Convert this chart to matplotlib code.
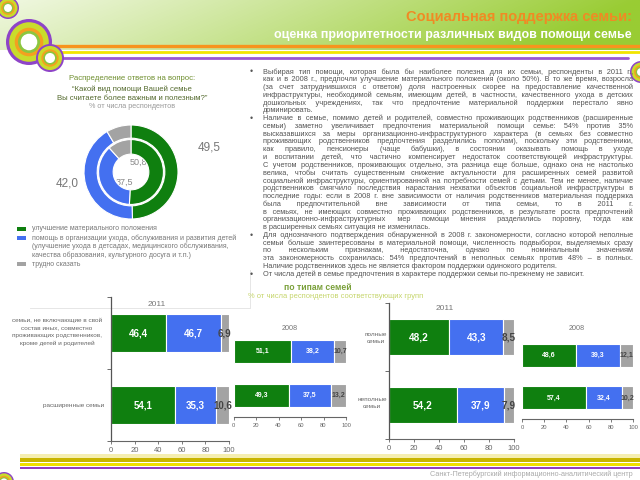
import matplotlib
matplotlib.use('Agg')
import matplotlib.pyplot as plt
import numpy as np
from matplotlib.patches import Circle, Rectangle

plt.rcParams['font.family'] = ['Liberation Sans', 'DejaVu Sans']

# ---------------- data ----------------
donut_2011 = [49.5, 42.0, 8.5]
donut_2008 = [50.8, 37.5, 11.7]
legend_labels = ["улучшение материального положения",
                 "помощь в организации ухода, обслуживания и развития детей",
                 "(улучшение ухода в детсадах, медицинского обслуживания,",
                 "качества образования, культурного досуга и т.п.)",
                 "трудно сказать"]

rel_cats = ["семьи, не включающие в свой\nсостав иных, совместно\nпроживающих родственников,\nкроме детей и родителей",
            "расширенные семьи"]
rel2011_green = [46.4, 54.1]
rel2011_blue = [46.7, 35.3]
rel2011_grey = [6.9, 10.6]
rel2008_green = [51.1, 49.3]
rel2008_blue = [38.2, 37.5]
rel2008_grey = [10.7, 13.2]

comp_cats = ["полные\nсемьи", "неполные\nсемьи"]
comp2011_green = [48.2, 54.2]
comp2011_blue = [43.3, 37.9]
comp2011_grey = [8.5, 7.9]
comp2008_green = [48.6, 57.4]
comp2008_blue = [39.3, 32.4]
comp2008_grey = [12.1, 10.2]
x_ticks = [0, 20, 40, 60, 80, 100]

paragraphs = [
    ["Выбирая тип помощи, которая была бы наиболее полезна для их семьи, респонденты в 2011 г.,",
     "как и в 2008 г., предпочли улучшение материального положения (около 50%). В то же время, возросла",
     "(за счет затруднившихся с ответом) доля настроенных скорее на предоставление качественной",
     "инфраструктуры, необходимой семьям, имеющим детей, в частности, качественного ухода в детских",
     "дошкольных учреждениях, так что предпочтение материальной поддержки перестало явно",
     "доминировать."],
    ["Наличие в семье, помимо детей и родителей, совместно проживающих родственников (расширенные",
     "семьи) заметно увеличивает предпочтения материальной помощи семье: 54% против 35%",
     "высказавшихся за меры организационно-инфраструктурного характера (в семьях без совместно",
     "проживающих родственников предпочтения разделились пополам), поскольку эти родственники,",
     "как правило, пенсионеры (чаще бабушки), в состоянии оказывать помощь в уходе",
     "и воспитании детей, что частично компенсирует недостаток соответствующей инфраструктуры.",
     "С учетом родственников, проживающих отдельно, эта разница еще больше, однако она не настолько",
     "велика, чтобы считать существенным снижение актуальности для расширенных семей развитой",
     "социальной инфраструктуры, ориентированной на потребности семей с детьми. Тем не менее, наличие",
     "родственников смягчило последствия нарастания нехватки объектов социальной инфраструктуры в",
     "последние годы: если в 2008 г. вне зависимости от наличия родственников материальная поддержка",
     "была предпочтительной вне зависимости от типа семьи, то в 2011 г.",
     "в семьях, не имеющих совместно проживающих родственников, в результате роста предпочтений",
     "организационно-инфраструктурных мер помощи мнения разделились поровну, тогда как",
     "в расширенных семьях ситуация не изменилась."],
    ["Для однозначного подтверждения обнаруженной в 2008 г. закономерности, согласно которой неполные",
     "семьи больше заинтересованы в материальной помощи, численность подвыборок, выделяемых сразу",
     "по нескольким признакам, недостаточна, однако по номинальным значениям",
     "эта закономерность сохранилась: 54% предпочтений в неполных семьях против 48% – в полных.",
     "Наличие родственников здесь не является фактором поддержки одинокого родителя."],
    ["От числа детей в семье предпочтения в характере поддержки семьи по-прежнему не зависит."],
]
justify_extra = {(2, 3): True}  # paragraph line that still reaches the right edge

GREEN = '#0f7f0f'
BLUE = '#4470f0'
GREY = '#a3a3a3'

W, H = 640, 480
fig = plt.figure(figsize=(6.4, 4.8), dpi=100)
bg = fig.add_axes([0, 0, 1, 1])
bg.axis('off')


def px_axes(x0, y0, x1, y1):
    a = fig.add_axes([x0 / W, 1 - y1 / H, (x1 - x0) / W, (y1 - y0) / H])
    a.patch.set_alpha(0)
    return a


# ---------------- header ----------------
nx, ny = 320, 40
gx = np.linspace(0, 1, nx)[None, :]
gy = np.linspace(0, 1, ny)[:, None]
c0 = np.array([1.0, 1.0, 1.0])
c1 = np.array([0.60, 0.80, 0.20])
t = np.clip(0.15 + gx ** 1.1 * 0.85 + gy * 0.15, 0, 1)
img = c0 * (1 - t[..., None]) + c1 * t[..., None]
bg.imshow(img, extent=[0, 640, 50, 0], aspect='auto', zorder=0)
bg.set_xlim(0, W)
bg.set_ylim(H, 0)

bg.plot([40, 640], [46, 46], color='#f7941d', lw=2.4, solid_capstyle='butt', zorder=1)
bg.plot([50, 640], [51.5, 51.5], color='#f2e600', lw=2.0, solid_capstyle='butt', zorder=1)
bg.plot([58, 628], [58, 58], color='#9b59d0', lw=2.0, solid_capstyle='round', zorder=1)


def ring(cx, cy, r, z=3):
    layers = [(1.0, '#8e44c8'), (0.86, '#c9dc2c'), (0.62, '#f4a020'), (0.48, '#8cc63f'), (0.36, '#ffffff')]
    for f, c in layers:
        bg.add_patch(Circle((cx, cy), r * f, color=c, zorder=z, lw=0))


ring(8, 8, 11)
ring(29, 42, 23)
ring(50, 58, 14, z=4)
ring(641, 72, 11)
ring(4, 482, 10)

bg.text(632, 17, "Социальная поддержка семьи:", color='#f08a24', fontsize=10.5,
        fontweight='bold', ha='right', va='center', zorder=5)
bg.text(632, 35, "оценка приоритетности различных видов помощи семье", color='white',
        fontsize=9, fontweight='bold', ha='right', va='center', zorder=5)

# ---------------- footer ----------------
bg.add_patch(Rectangle((20, 454), 620, 4, color='#f5eeb0', lw=0, zorder=1))
bg.add_patch(Rectangle((20, 458), 620, 4, color='#c8b400', lw=0, zorder=1))
bg.add_patch(Rectangle((20, 463), 620, 3, color='#f0e000', lw=0, zorder=1))
bg.add_patch(Rectangle((20, 466.5), 620, 2.5, color='#9040c0', lw=0, zorder=1))
bg.text(633, 474, "Санкт-Петербургский информационно-аналитический центр", color='#aaaaaa',
        fontsize=5.2, ha='right', va='center')

# ---------------- text block (justified, one text object per line) ----------------
renderer = fig.canvas.get_renderer()
TX0, TX1, TY0, TDY = 263, 633, 72, 7.77
TCOL = '#555555'


def text_width(s, size):
    tt = bg.text(0, 0, s, fontsize=size)
    w = tt.get_window_extent(renderer).width
    tt.remove()
    return w


all_lines = [l for p in paragraphs for l in p]
fs0 = 6.0
maxw = max(text_width(l, fs0) for l in all_lines)
fs = min(6.5, fs0 * (TX1 - TX0) / (maxw * 1.005))

# width of a small filler space used to stretch lines
fill_char = '\u200a'
fill_w = text_width('a' + fill_char + 'a', fs) - text_width('aa', fs)
if fill_w < 0.3:
    fill_char = ' '
    fill_w = text_width('a a', fs) - text_width('aa', fs)

li = 0
for pi, para in enumerate(paragraphs):
    for k, line in enumerate(para):
        y = TY0 + li * TDY
        if k == 0:
            bg.text(250, y, "•", fontsize=fs + 1, color=TCOL, ha='left', va='center')
        last = (k == len(para) - 1)
        words = line.split(' ')
        s = line
        if (not last or justify_extra.get((pi, k), False)) and len(words) > 1:
            w0 = text_width(line, fs)
            n_extra = max(0, int(round((TX1 - TX0 - w0) / fill_w)))
            gaps = len(words) - 1
            base, rem = divmod(n_extra, gaps)
            parts = [words[0]]
            for gi in range(gaps):
                cnt = base + (1 if gi < rem else 0)
                parts.append(' ' + fill_char * cnt + words[gi + 1])
            s = ''.join(parts)
        bg.text(TX0, y, s, fontsize=fs, color=TCOL, ha='left', va='center')
        li += 1

# ---------------- donut ----------------
dcx, dcy, R = 131, 172, 47
axd = px_axes(dcx - R, dcy - R, dcx + R, dcy + R)
cols = [GREEN, BLUE, GREY]
axd.pie(donut_2011, radius=1.0, colors=cols, startangle=90, counterclock=False,
        wedgeprops=dict(width=0.28, edgecolor='white', linewidth=0.8))
axd.pie(donut_2008, radius=0.69, colors=cols, startangle=90, counterclock=False,
        wedgeprops=dict(width=0.31, edgecolor='white', linewidth=0.8))
axd.set_xlim(-1, 1)
axd.set_ylim(-1, 1)
axd.set_aspect('equal')
axd.axis('off')

fmt = lambda v: f"{v:.1f}".replace('.', ',')
bg.text(209, 147, fmt(donut_2011[0]), fontsize=8.5, color='#777777', ha='center', va='center')
bg.text(67, 184, fmt(donut_2011[1]), fontsize=8.5, color='#777777', ha='center', va='center')
bg.text(118, 131, fmt(donut_2011[2]), fontsize=6.5, color='#eeeeee', ha='center', va='center')
bg.text(118, 144, fmt(donut_2008[2]), fontsize=6.5, color='#eeeeee', ha='center', va='center')
bg.text(138, 162, fmt(donut_2008[0]), fontsize=6.5, color='#888888', ha='center', va='center')
bg.text(124, 182, fmt(donut_2008[1]), fontsize=6.5, color='#888888', ha='center', va='center')
bg.text(133, 203, "2008", fontsize=6.5, color='white', fontweight='bold', ha='center', va='center')
bg.text(133, 214, "2011", fontsize=6.5, color='white', fontweight='bold', ha='center', va='center')

bg.text(132, 79, "Распределение ответов на вопрос:", fontsize=5.6, color='#6f8f2f', ha='center', va='center')
bg.text(132, 89, "“Какой вид помощи Вашей семье", fontsize=5.6, color='#556b2f', ha='center', va='center')
bg.text(132, 98, "Вы считаете более важным и полезным?”", fontsize=5.6, color='#556b2f', ha='center', va='center')
bg.text(132, 107, "% от числа респондентов", fontsize=5.2, color='#999999', ha='center', va='center')

leg_y = [229, 238, 246, 255, 264]
leg_col = [GREEN, BLUE, None, None, GREY]
for yy, lab, c in zip(leg_y, legend_labels, leg_col):
    if c is not None:
        bg.add_patch(Rectangle((17, yy - 2), 9, 4, color=c, lw=0))
    bg.text(32, yy, lab, fontsize=5.0, color='#777777', ha='left', va='center')

# ---------------- bar charts ----------------
bg.text(318, 287, "по типам семей", fontsize=6.2, color='#7aa03a', fontweight='bold', ha='center', va='center')
bg.text(248, 297, "% от числа респондентов соответствующих групп", fontsize=5.4, color='#c5d56a',
        ha='left', va='center')
bg.plot([30, 250], [308, 308], color='#e6e6e6', lw=0.7)
bg.plot([250, 250], [270, 308], color='#e6e6e6', lw=0.7)


def bar_chart(box, g, b, gr, fs_val, fs_tick, left_spine):
    ax = px_axes(*box)
    ypos = np.array([1, 0])
    hgt = 0.54
    ga = np.array(g); ba = np.array(b); ra = np.array(gr)
    ax.barh(ypos, ga, height=hgt, color=GREEN, edgecolor='white', linewidth=0.8)
    ax.barh(ypos, ba, left=ga, height=hgt, color=BLUE, edgecolor='white', linewidth=0.8)
    ax.barh(ypos, ra, left=ga + ba, height=hgt, color=GREY, edgecolor='white', linewidth=0.8)
    for yy, gv, bv, rv in zip(ypos, ga, ba, ra):
        ax.text(gv / 2, yy, fmt(gv), color='white', fontweight='bold', fontsize=fs_val, ha='center', va='center')
        ax.text(gv + bv / 2, yy, fmt(bv), color='white', fontweight='bold', fontsize=fs_val, ha='center', va='center')
        ax.text(gv + bv + rv / 2, yy, fmt(rv), color='#444444', fontweight='bold', fontsize=fs_val,
                ha='center', va='center')
    ax.set_xlim(0, 100)
    ax.set_ylim(-0.5, 1.5)
    ax.set_xticks(x_ticks)
    ax.set_xticklabels([str(v) for v in x_ticks])
    ax.tick_params(axis='x', labelsize=fs_tick, colors='#666666', length=2.5, width=0.6, pad=2)
    for s in ['top', 'right']:
        ax.spines[s].set_visible(False)
    ax.spines['bottom'].set_color('#666666')
    ax.spines['bottom'].set_linewidth(0.8)
    if left_spine:
        ax.spines['left'].set_color('#555555')
        ax.spines['left'].set_linewidth(0.9)
        ax.set_yticks([-0.5, 0.5, 1.5])
        ax.set_yticklabels([])
        ax.tick_params(axis='y', length=3, width=0.6, colors='#555555')
    else:
        ax.spines['left'].set_visible(False)
        ax.set_yticks([])
    return ax


bar_chart((233.5, 330, 346, 417), rel2008_green, rel2008_blue, rel2008_grey, 5.0, 4.2, False)
bar_chart((111, 297, 229, 441), rel2011_green, rel2011_blue, rel2011_grey, 7.0, 5.5, True)
bar_chart((522, 334.5, 633, 419), comp2008_green, comp2008_blue, comp2008_grey, 5.0, 4.2, False)
bar_chart((389, 303, 514, 439), comp2011_green, comp2011_blue, comp2011_grey, 7.2, 5.5, True)

bg.text(157, 305, "2011", fontsize=6, color='#777777', ha='center', va='center')
bg.text(290, 328, "2008", fontsize=5.2, color='#777777', ha='center', va='center')
bg.text(445, 309, "2011", fontsize=6, color='#777777', ha='center', va='center')
bg.text(577, 329, "2008", fontsize=5.2, color='#777777', ha='center', va='center')

bg.text(57, 332, rel_cats[0], fontsize=4.6, color='#666666', ha='center', va='center', linespacing=1.6)
bg.text(74, 405, rel_cats[1], fontsize=4.6, color='#666666', ha='center', va='center')
bg.text(376, 338, comp_cats[0], fontsize=4.6, color='#666666', ha='center', va='center', linespacing=1.6)
bg.text(372, 403, comp_cats[1], fontsize=4.6, color='#666666', ha='center', va='center', linespacing=1.6)

fig.savefig('out.png', dpi=100)
